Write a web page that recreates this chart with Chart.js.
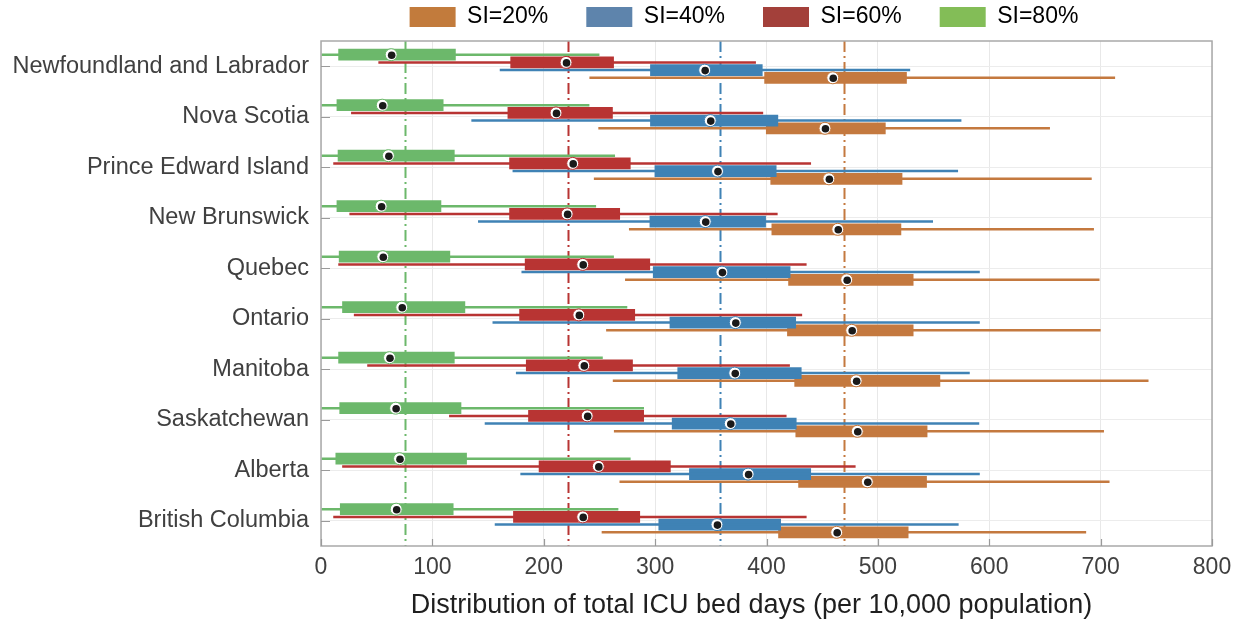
<!DOCTYPE html>
<html>
<head>
<meta charset="utf-8">
<script src="https://cdn.jsdelivr.net/npm/chart.js@4.4.1/dist/chart.umd.min.js"></script>
<style>
  html, body { margin: 0; padding: 0; background: #ffffff; }
  #wrap { width: 1242px; height: 622px; }
</style>
</head>
<body>
<div id="wrap"><canvas id="chart" width="1242" height="622"></canvas></div>
<script>
// Provinces, top to bottom
const provinces = [
  'Newfoundland and Labrador', 'Nova Scotia', 'Prince Edward Island', 'New Brunswick',
  'Quebec', 'Ontario', 'Manitoba', 'Saskatchewan', 'Alberta', 'British Columbia'
];

// Total ICU bed days per 10,000 population: whisker min, Q1, median, Q3, whisker max
const si20Min = [241, 249, 245, 276.5, 273, 256, 262, 263, 268, 252];
const si20Q1  = [398, 399.5, 403.5, 404.5, 419.5, 418.5, 425, 426, 428.5, 410.5];
const si20Med = [459.5, 452.5, 456, 464, 472, 476.5, 480.5, 481.5, 490.5, 463];
const si20Q3  = [526, 507, 522, 521, 532, 532, 556, 544.5, 544, 527.5];
const si20Max = [713, 654.5, 692, 694, 699, 700, 743, 703, 708, 687];

const si40Min = [160.5, 135, 172, 141, 180, 154, 175, 147, 179, 156];
const si40Q1  = [295.5, 295.5, 299.5, 295, 298, 313, 320, 315, 330.5, 303];
const si40Med = [344.5, 349.5, 356, 345, 360, 372, 371.5, 367.5, 383.5, 355.5];
const si40Q3  = [396.5, 410.5, 409, 399.5, 421.5, 426.5, 431.5, 427, 440, 413];
const si40Max = [529, 575, 572, 549.5, 591.5, 591.5, 582.5, 591, 591.5, 572.5];

const si60Min = [51.5, 27, 11, 25.5, 15.5, 29.5, 41.5, 115, 19, 11];
const si60Q1  = [170, 167.5, 169, 169, 183, 178, 184, 186, 195.5, 172.5];
const si60Med = [220, 211, 226, 221, 235, 231.5, 236, 239, 249, 235];
const si60Q3  = [263, 262, 278, 268.5, 295.5, 282, 280, 290, 314, 286.5];
const si60Max = [390.5, 397, 440, 410, 436, 432, 421, 418, 480, 436];

const si80Min = [0, 0, 0, 0, 0, 0, 0, 0, 0, 0];
const si80Q1  = [15.5, 14, 15, 14, 16, 19, 15.5, 16.5, 13, 17];
const si80Med = [63, 55, 60.5, 54, 55.5, 72.5, 61.5, 67, 70.5, 67.5];
const si80Q3  = [121, 110, 120, 108, 116, 129.5, 120, 126, 131, 119];
const si80Max = [250, 241, 264, 247, 263, 275, 253, 290, 278, 267];

// Overall means (dash-dot reference lines)
const seriesLabels = ['SI=20%', 'SI=40%', 'SI=60%', 'SI=80%'];
const seriesMeans  = [470, 358, 222, 75];
const xTickValues  = [0, 100, 200, 300, 400, 500, 600, 700, 800];
const xAxisTitle   = 'Distribution of total ICU bed days (per 10,000 population)';

const FONT = "'Liberation Sans', Arial, Helvetica, sans-serif";
const plotColors   = ['#c4793f', '#3f82b5', '#b83433', '#6cb86b'];
const legendColors = ['#c27b3c', '#5e84ac', '#a3403a', '#83bd57'];

const series = [
  { label: seriesLabels[0], min: si20Min, q1: si20Q1, med: si20Med, q3: si20Q3, max: si20Max, mean: seriesMeans[0], color: plotColors[0], legend: legendColors[0] },
  { label: seriesLabels[1], min: si40Min, q1: si40Q1, med: si40Med, q3: si40Q3, max: si40Max, mean: seriesMeans[1], color: plotColors[1], legend: legendColors[1] },
  { label: seriesLabels[2], min: si60Min, q1: si60Q1, med: si60Med, q3: si60Q3, max: si60Max, mean: seriesMeans[2], color: plotColors[2], legend: legendColors[2] },
  { label: seriesLabels[3], min: si80Min, q1: si80Q1, med: si80Med, q3: si80Q3, max: si80Max, mean: seriesMeans[3], color: plotColors[3], legend: legendColors[3] }
];

// Top slot (and top of the drawing order) is SI=80%, so build datasets in reverse
const drawOrder = [3, 2, 1, 0];
const datasets = [];
drawOrder.forEach((s) => {
  const sr = series[s];
  datasets.push({
    label: sr.label + ' range',
    data: provinces.map((_, i) => [sr.min[i], sr.max[i]]),
    backgroundColor: sr.color,
    borderWidth: 0,
    stack: 'g' + s,
    categoryPercentage: 0.61,
    barPercentage: 0.33,
    seriesIndex: s,
    part: 'whisker'
  });
  datasets.push({
    label: sr.label,
    data: provinces.map((_, i) => [sr.q1[i], sr.q3[i]]),
    backgroundColor: sr.color,
    borderWidth: 0,
    stack: 'g' + s,
    categoryPercentage: 0.61,
    barPercentage: 1.52,
    seriesIndex: s,
    part: 'box'
  });
});

// Mean lines, median markers, frame, inward ticks and the axis title
const overlay = {
  id: 'overlay',
  afterLayout(chart) {
    const lg = chart.legend;
    if (lg) {
      lg.left += 131;
      lg.right += 131;
      lg.top -= 32.5;
    }
  },
  beforeDatasetsDraw(chart) {
    const { ctx, chartArea: a, scales: { x } } = chart;
    ctx.save();
    ctx.lineWidth = 2;
    ctx.setLineDash([11, 4, 2, 4]);
    series.forEach((sr) => {
      const px = Math.round(x.getPixelForValue(sr.mean)) + 0.5;
      ctx.strokeStyle = sr.color;
      ctx.beginPath();
      ctx.moveTo(px, a.top);
      ctx.lineTo(px, a.bottom);
      ctx.stroke();
    });
    ctx.restore();
  },
  afterDatasetsDraw(chart) {
    const { ctx, chartArea: a, scales: { x, y } } = chart;
    ctx.save();
    // median markers, drawn bottom series first
    [0, 1, 2, 3].forEach((s) => {
      const sr = series[s];
      const dsIndex = chart.data.datasets.findIndex((d) => d.seriesIndex === s && d.part === 'box');
      const meta = chart.getDatasetMeta(dsIndex);
      meta.data.forEach((bar, i) => {
        const cx = x.getPixelForValue(sr.med[i]);
        const cy = bar.y;
        ctx.beginPath();
        ctx.arc(cx, cy, 6, 0, Math.PI * 2);
        ctx.fillStyle = '#ffffff';
        ctx.fill();
        ctx.lineWidth = 1;
        ctx.strokeStyle = sr.color;
        ctx.stroke();
        ctx.beginPath();
        ctx.arc(cx + 0.5, cy + 0.5, 3.8, 0, Math.PI * 2);
        ctx.fillStyle = '#1a1a1a';
        ctx.fill();
      });
    });
    // frame
    ctx.strokeStyle = '#a9a9a9';
    ctx.lineWidth = 1.5;
    ctx.setLineDash([]);
    ctx.strokeRect(a.left, a.top, a.right - a.left, a.bottom - a.top);
    // inward ticks
    ctx.lineWidth = 1.2;
    ctx.strokeStyle = '#9a9a9a';
    ctx.beginPath();
    xTickValues.forEach((v) => {
      const px = Math.round(x.getPixelForValue(v)) + 0.5;
      ctx.moveTo(px, a.bottom);
      ctx.lineTo(px, a.bottom - 7);
    });
    provinces.forEach((_, i) => {
      const py = Math.round(y.getPixelForValue(i)) + 0.5;
      ctx.moveTo(a.left, py);
      ctx.lineTo(a.left + 9, py);
    });
    ctx.stroke();
    ctx.restore();
  },
  afterDraw(chart) {
    const { ctx, chartArea: a } = chart;
    ctx.save();
    ctx.font = '27px ' + FONT;
    ctx.fillStyle = '#1f1f1f';
    ctx.textAlign = 'center';
    ctx.textBaseline = 'middle';
    ctx.fillText(xAxisTitle, (a.left + a.right) / 2 - 15, chart.height - 16);
    ctx.restore();
  }
};

new Chart(document.getElementById('chart'), {
  type: 'bar',
  data: { labels: provinces, datasets },
  options: {
    indexAxis: 'y',
    responsive: false,
    animation: false,
    devicePixelRatio: 1,
    layout: { padding: { left: 14, right: 30, top: 0, bottom: 0 } },
    plugins: {
      tooltip: { enabled: false },
      legend: {
        position: 'top',
        maxHeight: 41,
        onClick: null,
        labels: {
          boxWidth: 46,
          boxHeight: 20,
          padding: 38,
          color: '#262626',
          font: { family: FONT, size: 23 },
          generateLabels: () => series.map((sr) => ({
            text: sr.label,
            fillStyle: sr.legend,
            strokeStyle: sr.legend,
            lineWidth: 0,
            hidden: false
          }))
        }
      }
    },
    scales: {
      x: {
        type: 'linear',
        min: 0,
        max: 800,
        stacked: false,
        afterFit: (scale) => { scale.height = 76; },
        ticks: { stepSize: 100, color: '#404040', padding: 8, font: { family: FONT, size: 23 } },
        grid: { color: '#e8e8e8', lineWidth: 1, drawTicks: false },
        border: { display: false },
        title: { display: false }
      },
      y: {
        type: 'category',
        afterFit: (scale) => { scale.width = 307; },
        ticks: { color: '#404040', padding: 12, font: { family: FONT, size: 23.5 } },
        grid: { color: '#ececec', lineWidth: 1, offset: false, drawTicks: false },
        border: { display: false }
      }
    }
  },
  plugins: [overlay]
});
</script>
</body>
</html>
